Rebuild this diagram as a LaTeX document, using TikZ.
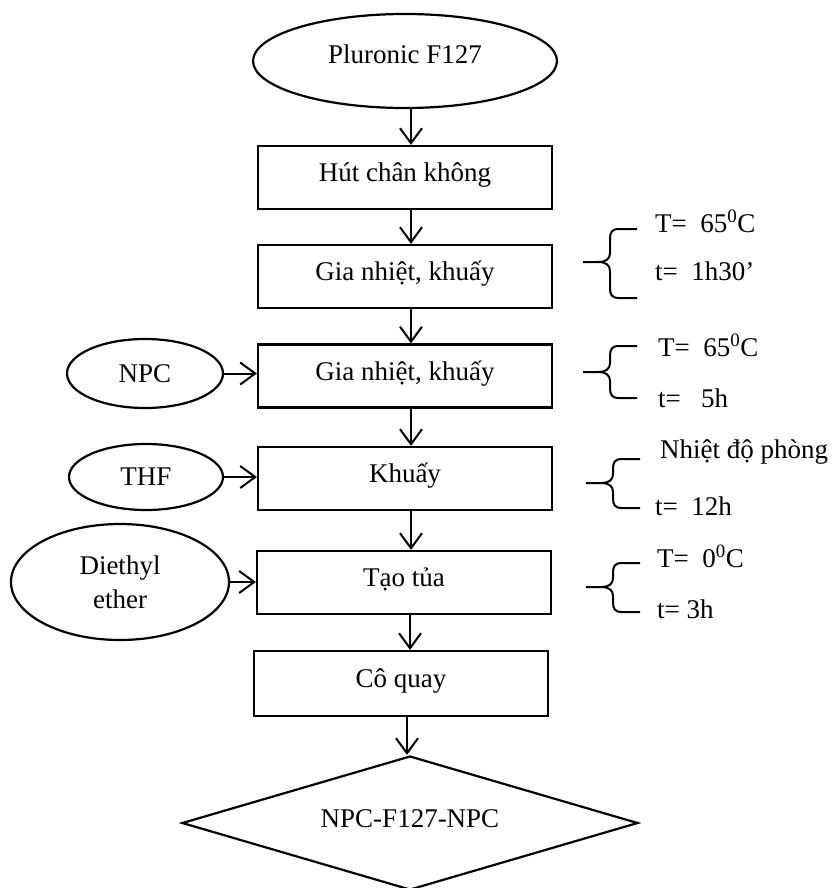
\documentclass[tikz,border=0pt]{standalone}
\usepackage{fontspec}
\setmainfont{Liberation Serif}
\usetikzlibrary{shapes.geometric,arrows.meta,positioning}

\newcommand{\cbrace}[4]{%
  \draw[brc] (#1+27,#3) -- (#1+9,#3) .. controls (#1+2,#3) and (#1,#3+3) .. (#1,#3+10)
    -- (#1,#2-9) .. controls (#1,#2-3) and (#1-4,#2) .. (#1-12,#2) -- (#1-27,#2);
  \draw[brc] (#1-12,#2) .. controls (#1-4,#2) and (#1,#2+3) .. (#1,#2+9)
    -- (#1,#4-10) .. controls (#1,#4-3) and (#1+2,#4) .. (#1+9,#4) -- (#1+27,#4);
}

\begin{document}
\begin{tikzpicture}[x=1pt,y=-1pt,
    font=\fontsize{27}{34}\selectfont,
    proc/.style={draw,line width=2.2pt,minimum width=294pt,minimum height=63pt,
      inner sep=0pt,text height=20pt,text depth=12pt},
    src/.style={draw,ellipse,line width=2.2pt,inner sep=0pt},
    flow/.style={line width=2pt,-{Straight Barb[length=15pt,width=22pt]}},
    brc/.style={line width=2pt},
    cond/.style={anchor=base west,inner sep=0pt}]
  \useasboundingbox (0,0) rectangle (836,888);

  \node[src,minimum width=304pt,minimum height=94pt,text height=20pt,text depth=14pt] (plu) at (405,61) {Pluronic F127};
  \node[proc] (hut) at (405,177.5) {Hút chân không};
  \node[proc] (gia1) at (405,276.5) {Gia nhiệt, khuấy};
  \node[proc] (gia2) at (405,376) {Gia nhiệt, khuấy};
  \node[proc] (khuay) at (405,478.5) {Khuấy};
  \node[proc] (tua) at (404,582.5) {Tạo tủa};
  \node[proc,minimum height=65pt] (quay) at (401,683.5) {Cô quay};
  \node[draw,diamond,aspect=3.4,line width=2.2pt,minimum width=456pt,minimum height=134pt,
    inner sep=0pt,text height=20pt,text depth=12pt] (npcf) at (410,823) {NPC-F127-NPC};

  \node[src,minimum width=156pt,minimum height=69pt] (npc) at (145,373.5) {NPC};
  \node[src,minimum width=154pt,minimum height=66pt] (thf) at (146,477) {THF};
  \node[src,minimum width=218pt,minimum height=116pt,align=center] (eth) at (120,582) {Diethyl\\ether};

  \foreach \a/\b in {plu/hut,hut/gia1,gia1/gia2,gia2/khuay,khuay/tua,tua/quay,quay/npcf}
    \draw[flow] ([xshift=6pt]\a.south) -- ([xshift=6pt]\a.south |- \b.north);
  \foreach \a/\b in {npc/gia2,thf/khuay,eth/tua}
    \draw[flow] (\a.east) -- (\a.east -| \b.west);

  \node[cond] (c1a) at (655,232) {T=\ \ 65\textsuperscript{0}C};
  \node[cond] (c1b) at (655,280) {t=\ \ 1h30’};
  \node[cond] (c2a) at (658,356) {T=\ \ 65\textsuperscript{0}C};
  \node[cond] (c2b) at (658,407) {t=\ \ \ 5h};
  \node[cond] (c3a) at (660,458) {Nhiệt độ phòng};
  \node[cond] (c3b) at (655,515) {t=\ \ 12h};
  \node[cond] (c4a) at (657,567) {T=\ \ 0\textsuperscript{0}C};
  \node[cond] (c4b) at (657,618) {t= 3h};

  \cbrace{610}{262}{229}{298}
  \cbrace{610}{372}{346}{398}
  \cbrace{613}{483}{459}{508}
  \cbrace{613}{587}{563}{612}
\end{tikzpicture}
\end{document}
